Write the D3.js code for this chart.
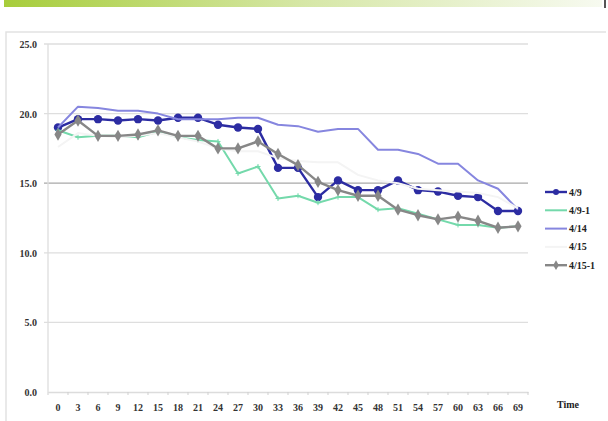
<!DOCTYPE html>
<html><head><meta charset="utf-8">
<script src="https://cdn.jsdelivr.net/npm/d3@7"></script>
<style>html,body{margin:0;padding:0;background:#fff;}svg{display:block;}</style>
</head><body>
<svg id="c" width="608" height="421"></svg>
<script>
const times = ["0","3","6","9","12","15","18","21","24","27","30","33","36","39","42","45","48","51","54","57","60","63","66","69"];
const yTicks = [0,5,10,15,20,25];
const seriesNames = ["4/9","4/9-1","4/14","4/15","4/15-1"];
const s49   = [19.0,19.6,19.6,19.5,19.6,19.5,19.7,19.7,19.2,19.0,18.9,16.1,16.1,14.0,15.2,14.5,14.5,15.2,14.5,14.4,14.1,14.0,13.0,13.0];
const s491  = [18.8,18.3,18.4,18.4,18.3,18.7,18.3,18.1,18.0,15.7,16.2,13.9,14.1,13.6,14.0,14.0,13.1,13.2,12.8,12.4,12.0,12.0,11.8,11.9];
const s414  = [19.0,20.5,20.4,20.2,20.2,20.0,19.6,19.6,19.6,19.7,19.7,19.2,19.1,18.7,18.9,18.9,17.4,17.4,17.1,16.4,16.4,15.2,14.6,13.1];
const s415  = [17.6,18.6,18.4,18.3,18.4,18.6,18.3,18.0,17.5,17.3,17.3,16.8,16.6,16.5,16.5,15.6,15.2,15.0,14.6,14.5,14.4,14.3,14.0,13.2];
const s4151 = [18.5,19.5,18.4,18.4,18.5,18.8,18.4,18.4,17.5,17.5,18.0,17.1,16.3,15.1,14.5,14.1,14.1,13.1,12.7,12.4,12.6,12.3,11.8,11.9];

const svg = d3.select("#c");
const font = "'Liberation Serif', 'Times New Roman', serif";

// top gradient bar
const defs = svg.append("defs");
const g = defs.append("linearGradient").attr("id","topbar");
g.append("stop").attr("offset","0%").attr("stop-color","#a7cd3b");
g.append("stop").attr("offset","50%").attr("stop-color","#d6e7a6");
g.append("stop").attr("offset","100%").attr("stop-color","#f7faf0");
svg.append("rect").attr("x",4).attr("y",0).attr("width",598).attr("height",7).attr("fill","url(#topbar)");
svg.append("rect").attr("x",604).attr("y",0).attr("width",2).attr("height",8).attr("fill","#555");

// frame
svg.append("path").attr("d","M6,421V32H606").attr("fill","none").attr("stroke","#e2e2e2").attr("stroke-width",1.5);

const x = d3.scaleBand().domain(times).range([48,528]).padding(0);
const y = d3.scaleLinear().domain([0,25]).range([392,44]);
const cx = t => x(t) + x.bandwidth()/2;

// gridlines
svg.append("g").selectAll("line").data(yTicks.filter(v=>v>0)).join("line")
  .attr("x1",44).attr("x2",528).attr("y1",d=>y(d)).attr("y2",d=>y(d))
  .attr("stroke",d=>d===15?"#a8a8a8":"#dedede").attr("stroke-width",1.3);

// y axis line
svg.append("line").attr("x1",48).attr("x2",48).attr("y1",y(25)).attr("y2",y(0)).attr("stroke","#dedede").attr("stroke-width",1.3);

// y tick labels
const yAxis = d3.axisLeft(y).tickValues(yTicks).tickFormat(d3.format(".1f")).tickSize(0).tickPadding(0);
const ya = svg.append("g").attr("transform","translate(37,0)").call(yAxis);
ya.select(".domain").remove();
ya.selectAll("text").attr("font-family",font).attr("font-weight","bold").attr("font-size",10).attr("fill","#333").attr("dy","0.35em");

// x axis
const xAxis = d3.axisBottom(x).tickSize(0).tickPadding(0);
const xa = svg.append("g").attr("transform","translate(0,392)").call(xAxis);
xa.select(".domain").attr("stroke","#dcdcdc").attr("stroke-width",1.3);
xa.selectAll("text").attr("font-family",font).attr("font-weight","bold").attr("font-size",10).attr("fill","#333").attr("y",12).attr("dy","0.71em");
// tick marks at band boundaries
svg.append("g").selectAll("line").data(times).join("line")
  .attr("x1",d=>x(d)).attr("x2",d=>x(d)).attr("y1",392).attr("y2",395).attr("stroke","#cfcfcf");
svg.append("line").attr("x1",528).attr("x2",528).attr("y1",392).attr("y2",395).attr("stroke","#cfcfcf");

svg.append("text").attr("x",557).attr("y",408).text("Time")
  .attr("font-family",font).attr("font-weight","bold").attr("font-size",10).attr("fill","#222");

const line = d3.line().x((d,i)=>cx(times[i])).y(d=>y(d));
const styles = [
  {data:s49,   color:"#2c2ca2", w:2.4, marker:"circle"},
  {data:s491,  color:"#74d9ab", w:2,   marker:"plus"},
  {data:s414,  color:"#8686df", w:2,   marker:null},
  {data:s415,  color:"#f4f4f4", w:2,   marker:null},
  {data:s4151, color:"#878787", w:2.4, marker:"diamond"}
];
const diamond = d3.symbol().type(d3.symbolDiamond).size(44);

function drawMarker(sel, st, px, py){
  if(st.marker==="circle"){
    sel.append("circle").attr("cx",px).attr("cy",py).attr("r",4.2).attr("fill",st.color);
  } else if(st.marker==="diamond"){
    sel.append("path").attr("d",diamond()).attr("transform",`translate(${px},${py})`).attr("fill",st.color);
  } else if(st.marker==="plus"){
    sel.append("path").attr("d",`M${px-2.5},${py}H${px+2.5}M${px},${py-2.5}V${py+2.5}`).attr("stroke",st.color).attr("stroke-width",1);
  }
}

styles.forEach(st=>{
  const gg = svg.append("g");
  gg.append("path").attr("d",line(st.data)).attr("fill","none").attr("stroke",st.color).attr("stroke-width",st.w).attr("stroke-linejoin","round");
  st.data.forEach((v,i)=>drawMarker(gg, st, cx(times[i]), y(v)));
});

// legend
const lg = svg.append("g");
seriesNames.forEach((name,i)=>{
  const st = styles[i];
  const ly = 192 + i*18.3;
  lg.append("line").attr("x1",545).attr("x2",567).attr("y1",ly).attr("y2",ly).attr("stroke",st.color).attr("stroke-width",st.w);
  if(st.marker==="circle") lg.append("circle").attr("cx",556).attr("cy",ly).attr("r",3).attr("fill",st.color);
  if(st.marker==="diamond") lg.append("path").attr("d",d3.symbol().type(d3.symbolDiamond).size(28)()).attr("transform",`translate(556,${ly})`).attr("fill",st.color);
  lg.append("text").attr("x",569).attr("y",ly).attr("dy","0.35em").text(name)
    .attr("font-family",font).attr("font-weight","bold").attr("font-size",10).attr("fill","#222");
});
</script>
</body></html>
